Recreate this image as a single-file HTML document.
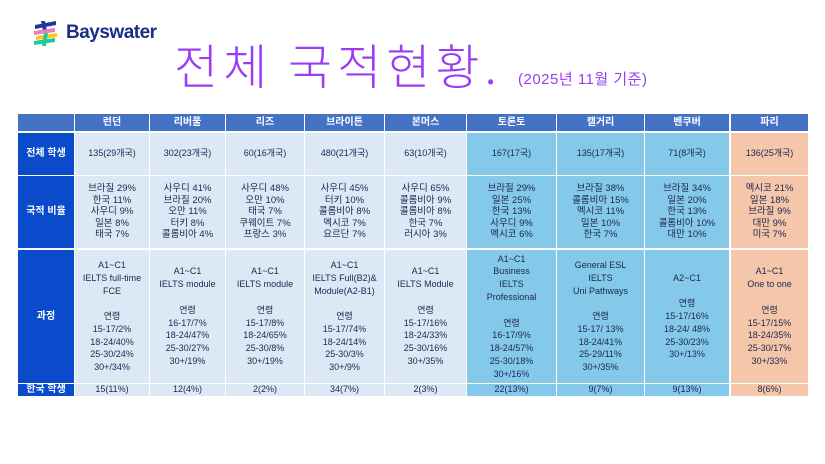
<!DOCTYPE html>
<html><head><meta charset="utf-8">
<style>
*{margin:0;padding:0;box-sizing:border-box}
body{width:825px;height:464px;background:#fff;position:relative;overflow:hidden;font-family:"Liberation Sans","Noto Sans CJK KR",sans-serif;color:#1f2a5a}
.c{position:absolute;display:flex;align-items:center;justify-content:center;text-align:center;font-size:9px;line-height:11.5px;color:#1c2650}
.h{background:#4472c4;color:#fff;font-weight:bold;font-size:10px}
.f{background:#0a4bcc;color:#fff;font-weight:bold;font-size:10px}
.l{background:#dde8f5}
.b{background:#84c9ea}
.p{background:#f5c6a9}
.pr{line-height:12.8px}
.r2{font-size:9.5px;line-height:11.5px}
</style></head><body>
<svg style="position:absolute;left:32px;top:20px" width="27" height="27" viewBox="0 0 27 27">
<path d="M3 5 L24 1 L24 5 L3 9Z" fill="#1a3a9a"/>
<path d="M9 1 L13 1 L15 11 L11 11Z" fill="#1a3a9a"/>
<path d="M2 11 L23 8 L23 12 L2 15Z" fill="#f27bc5"/>
<path d="M4 16 L25 13 L25 17 L4 20Z" fill="#f7c925"/>
<path d="M2 21 L23 18 L23 22 L2 25Z" fill="#1ec99a"/>
<path d="M12 13 L16 13 L14 26 L10 26Z" fill="#1ec99a"/>
</svg>
<div style="position:absolute;left:66px;top:22px;font-size:19px;font-weight:bold;color:#1a2e8a;letter-spacing:-0.5px">Bayswater</div>
<div style="position:absolute;left:174px;top:28px;font-size:48px;font-weight:300;color:#9b3cf5;font-family:'Noto Sans CJK KR',sans-serif;white-space:nowrap;letter-spacing:5px">전체 국적현황.</div>
<div style="position:absolute;left:518px;top:68px;font-size:15px;color:#9b3cf5;white-space:nowrap;letter-spacing:0.5px">(2025년 11월 기준)</div>

<!-- header -->
<div class="c h" style="left:18px;top:114px;width:56px;height:17px"></div>
<div class="c h" style="left:75px;top:114px;width:74px;height:17px">런던</div>
<div class="c h" style="left:150px;top:114px;width:75px;height:17px">리버풀</div>
<div class="c h" style="left:226px;top:114px;width:78px;height:17px">리즈</div>
<div class="c h" style="left:305px;top:114px;width:79px;height:17px">브라이튼</div>
<div class="c h" style="left:385px;top:114px;width:81px;height:17px">본머스</div>
<div class="c h" style="left:467px;top:114px;width:89px;height:17px">토론토</div>
<div class="c h" style="left:557px;top:114px;width:87px;height:17px">캘거리</div>
<div class="c h" style="left:645px;top:114px;width:84px;height:17px">벤쿠버</div>
<div class="c h" style="left:731px;top:114px;width:77px;height:17px">파리</div>

<!-- row1 -->
<div class="c f" style="left:18px;top:133px;width:56px;height:42px">전체 학생</div>
<div class="c l" style="left:75px;top:133px;width:74px;height:42px">135(29개국)</div>
<div class="c l" style="left:150px;top:133px;width:75px;height:42px">302(23개국)</div>
<div class="c l" style="left:226px;top:133px;width:78px;height:42px">60(16개국)</div>
<div class="c l" style="left:305px;top:133px;width:79px;height:42px">480(21개국)</div>
<div class="c l" style="left:385px;top:133px;width:81px;height:42px">63(10개국)</div>
<div class="c b" style="left:467px;top:133px;width:89px;height:42px">167(17국)</div>
<div class="c b" style="left:557px;top:133px;width:87px;height:42px">135(17개국)</div>
<div class="c b" style="left:645px;top:133px;width:84px;height:42px">71(8개국)</div>
<div class="c p" style="left:731px;top:133px;width:77px;height:42px">136(25개국)</div>

<!-- row2 -->
<div class="c f" style="left:18px;top:176px;width:56px;height:72px">국적 비율</div>
<div class="c l r2" style="left:75px;top:176px;width:74px;height:72px">브라질 29%<br>한국 11%<br>사우디 9%<br>일본 8%<br>태국 7%</div>
<div class="c l r2" style="left:150px;top:176px;width:75px;height:72px">사우디 41%<br>브라질 20%<br>오만 11%<br>터키 8%<br>콜롬비아 4%</div>
<div class="c l r2" style="left:226px;top:176px;width:78px;height:72px">사우디 48%<br>오만 10%<br>태국 7%<br>쿠웨이트 7%<br>프랑스 3%</div>
<div class="c l r2" style="left:305px;top:176px;width:79px;height:72px">사우디 45%<br>터키 10%<br>콜롬비아 8%<br>멕시코 7%<br>요르단 7%</div>
<div class="c l r2" style="left:385px;top:176px;width:81px;height:72px">사우디 65%<br>콜롬비아 9%<br>콜롬비아 8%<br>한국 7%<br>러시아 3%</div>
<div class="c b r2" style="left:467px;top:176px;width:89px;height:72px">브라질 29%<br>일본 25%<br>한국 13%<br>사우디 9%<br>멕시코 6%</div>
<div class="c b r2" style="left:557px;top:176px;width:87px;height:72px">브라질 38%<br>콜롬비아 15%<br>멕시코 11%<br>일본 10%<br>한국 7%</div>
<div class="c b r2" style="left:645px;top:176px;width:84px;height:72px">브라질 34%<br>일본 20%<br>한국 13%<br>콜롬비아 10%<br>대만 10%</div>
<div class="c p r2" style="left:731px;top:176px;width:77px;height:72px">멕시코 21%<br>일본 18%<br>브라질 9%<br>대만 9%<br>미국 7%</div>

<!-- row3 -->
<div class="c f" style="left:18px;top:250px;width:56px;height:133px">과정</div>
<div class="c l pr" style="left:75px;top:250px;width:74px;height:133px">A1~C1<br>IELTS full-time<br>FCE<br><br>연령<br>15-17/2%<br>18-24/40%<br>25-30/24%<br>30+/34%</div>
<div class="c l pr" style="left:150px;top:250px;width:75px;height:133px">A1~C1<br>IELTS module<br><br>연령<br>16-17/7%<br>18-24/47%<br>25-30/27%<br>30+/19%</div>
<div class="c l pr" style="left:226px;top:250px;width:78px;height:133px">A1~C1<br>IELTS module<br><br>연령<br>15-17/8%<br>18-24/65%<br>25-30/8%<br>30+/19%</div>
<div class="c l pr" style="left:305px;top:250px;width:79px;height:133px">A1~C1<br>IELTS Full(B2)&amp;<br>Module(A2-B1)<br><br>연령<br>15-17/74%<br>18-24/14%<br>25-30/3%<br>30+/9%</div>
<div class="c l pr" style="left:385px;top:250px;width:81px;height:133px">A1~C1<br>IELTS Module<br><br>연령<br>15-17/16%<br>18-24/33%<br>25-30/16%<br>30+/35%</div>
<div class="c b pr" style="left:467px;top:250px;width:89px;height:133px">A1~C1<br>Business<br>IELTS<br>Professional<br><br>연령<br>16-17/9%<br>18-24/57%<br>25-30/18%<br>30+/16%</div>
<div class="c b pr" style="left:557px;top:250px;width:87px;height:133px">General ESL<br>IELTS<br>Uni Pathways<br><br>연령<br>15-17/ 13%<br>18-24/41%<br>25-29/11%<br>30+/35%</div>
<div class="c b pr" style="left:645px;top:250px;width:84px;height:133px">A2~C1<br><br>연령<br>15-17/16%<br>18-24/ 48%<br>25-30/23%<br>30+/13%</div>
<div class="c p pr" style="left:731px;top:250px;width:77px;height:133px">A1~C1<br>One to one<br><br>연령<br>15-17/15%<br>18-24/35%<br>25-30/17%<br>30+/33%</div>

<!-- row4 -->
<div class="c f" style="left:18px;top:384px;width:56px;height:12px">한국 학생</div>
<div class="c l" style="left:75px;top:384px;width:74px;height:12px">15(11%)</div>
<div class="c l" style="left:150px;top:384px;width:75px;height:12px">12(4%)</div>
<div class="c l" style="left:226px;top:384px;width:78px;height:12px">2(2%)</div>
<div class="c l" style="left:305px;top:384px;width:79px;height:12px">34(7%)</div>
<div class="c l" style="left:385px;top:384px;width:81px;height:12px">2(3%)</div>
<div class="c b" style="left:467px;top:384px;width:89px;height:12px">22(13%)</div>
<div class="c b" style="left:557px;top:384px;width:87px;height:12px">9(7%)</div>
<div class="c b" style="left:645px;top:384px;width:84px;height:12px">9(13%)</div>
<div class="c p" style="left:731px;top:384px;width:77px;height:12px">8(6%)</div>
</body></html>
